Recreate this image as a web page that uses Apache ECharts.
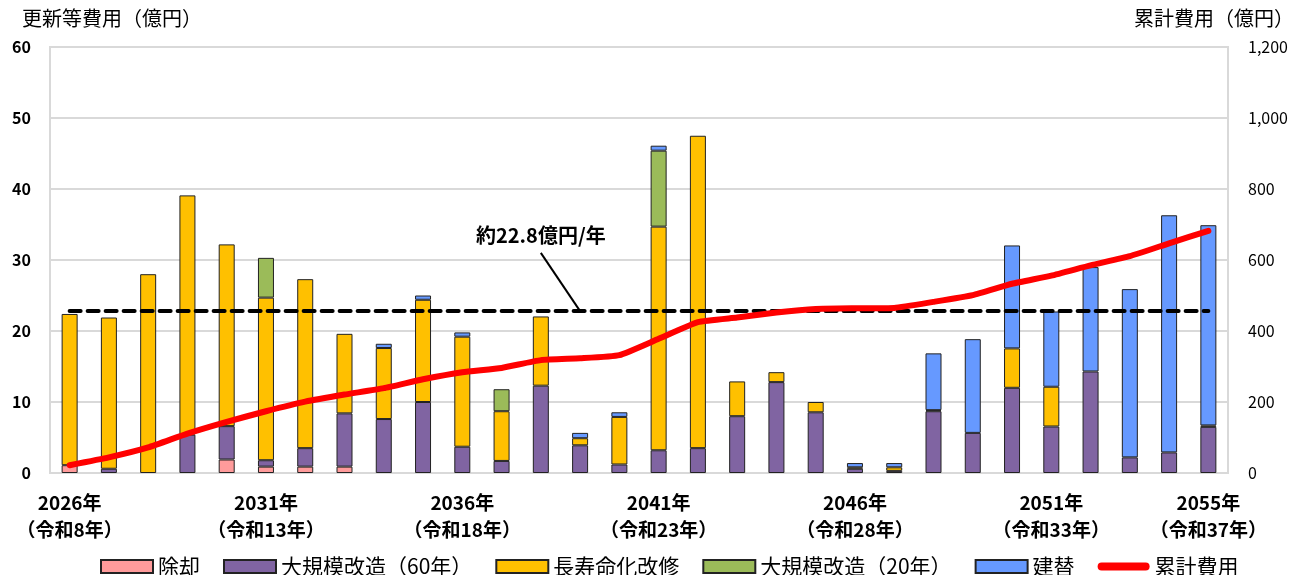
<!DOCTYPE html>
<html>
<head>
<meta charset="utf-8">
<script src="https://cdn.jsdelivr.net/npm/echarts@6/dist/echarts.min.js"></script>
<style>
html,body{margin:0;padding:0;background:#fff;}
#chart{width:1299px;height:575px;}
</style>
</head>
<body>
<div id="chart"></div>
<script>
const years = ['2026','2027','2028','2029','2030','2031','2032','2033','2034','2035','2036','2037','2038','2039','2040','2041','2042','2043','2044','2045','2046','2047','2048','2049','2050','2051','2052','2053','2054','2055'];
const tickLabels = {'2026':'令和8年','2031':'令和13年','2036':'令和18年','2041':'令和23年','2046':'令和28年','2051':'令和33年','2055':'令和37年'};

const demolition   = [1.1,0,0,0,1.9,0.9,0.9,0.9,0,0,0,0,0,0,0,0,0,0,0,0,0,0,0,0,0,0,0,0,0,0];
const majorRenov60 = [0,0.6,0,5.4,4.7,0.9,2.6,7.5,7.6,10.0,3.7,1.7,12.3,3.9,1.2,3.2,3.5,8.0,12.8,8.55,0.6,0.3,8.7,5.65,12.0,6.55,14.3,2.2,2.9,6.5];
const lifeExtension= [21.3,21.3,28.0,33.7,25.6,22.9,23.8,11.2,10.0,14.4,15.5,7.0,9.75,1.0,6.7,31.5,44.0,4.9,1.4,1.45,0.2,0.5,0.15,0,5.55,5.6,0,0,0,0.2];
const majorRenov20 = [0,0,0,0,0,5.6,0,0,0,0,0,3.1,0,0,0,10.7,0,0,0,0,0,0,0,0,0,0,0,0,0,0];
const rebuild      = [0,0,0,0,0,0,0,0,0.6,0.6,0.6,0,0,0.75,0.65,0.7,0,0,0,0,0.6,0.6,8.0,13.2,14.5,10.6,14.7,23.7,33.4,28.2];
const cumulative   = [22,44,72,111,144,174,201,221,239,264,284,296,318,323,332,378,425,438,452,462,464,465,482,501,533,556,585,611,647,682];
const averagePerYear = 22.8;
const annotationText = '約22.8億円/年';

const FONT = "'Noto Sans CJK JP', 'Noto Sans', sans-serif";
const chart = echarts.init(document.getElementById('chart'));
const nz = arr => arr.map(v => (v === 0 ? null : v));

const barCommon = (name, data, color) => ({
  name, type: 'bar', stack: 'cost', data: nz(data), barWidth: 16,
  itemStyle: { color, borderColor: '#222', borderWidth: 1 }
});

const lineIcon = 'path://M4,0 L48,0 A4,4 0 0 1 48,8 L4,8 A4,4 0 0 1 4,0 Z';

const option = {
  animation: false,
  textStyle: { fontFamily: FONT },
  title: [
    { text: '更新等費用（億円）', left: 17, top: 3, textStyle: { fontFamily: FONT, fontSize: 20, fontWeight: 'normal', color: '#000' } },
    { text: '累計費用（億円）', right: 0, top: 3, textStyle: { fontFamily: FONT, fontSize: 20, fontWeight: 'normal', color: '#000' } }
  ],
  grid: { left: 50, right: 71, top: 47, bottom: 102, show: true, borderColor: '#D9D9D9', borderWidth: 2, backgroundColor: 'transparent' },
  legend: {
    left: 95, top: 551, itemWidth: 52, itemHeight: 13, itemGap: 23,
    textStyle: { fontFamily: FONT, fontSize: 21, color: '#000' },
    data: [
      { name: '除却', icon: 'rect' },
      { name: '大規模改造（60年）', icon: 'rect' },
      { name: '長寿命化改修', icon: 'rect' },
      { name: '大規模改造（20年）', icon: 'rect' },
      { name: '建替', icon: 'rect' },
      { name: '累計費用', icon: lineIcon, itemStyle: { color: '#FF0000', borderWidth: 0 } }
    ]
  },
  xAxis: {
    type: 'category', data: years,
    axisLine: { lineStyle: { color: '#D9D9D9', width: 2 } },
    axisTick: { show: false },
    axisLabel: {
      interval: 0, margin: 16, color: '#000', fontFamily: FONT, fontSize: 19, fontWeight: 'bold', lineHeight: 27,
      formatter: v => tickLabels[v] ? v + '年\n（' + tickLabels[v] + '）' : ''
    }
  },
  yAxis: [
    {
      type: 'value', min: 0, max: 60, interval: 10,
      axisLine: { show: false }, axisTick: { show: false },
      axisLabel: { margin: 19, color: '#000', fontFamily: FONT, fontSize: 16, fontWeight: 'bold' },
      splitLine: { lineStyle: { color: '#D9D9D9', width: 2 } }
    },
    {
      type: 'value', min: 0, max: 1200, interval: 200,
      axisLine: { show: false }, axisTick: { show: false },
      axisLabel: { margin: 20, color: '#000', fontFamily: FONT, fontSize: 16,
        formatter: v => v.toLocaleString('en-US') },
      splitLine: { show: false }
    }
  ],
  series: [
    barCommon('除却', demolition, '#FF9B9B'),
    barCommon('大規模改造（60年）', majorRenov60, '#8064A2'),
    barCommon('長寿命化改修', lifeExtension, '#FFC000'),
    barCommon('大規模改造（20年）', majorRenov20, '#9BBB59'),
    Object.assign(barCommon('建替', rebuild, '#6699FF'), {
      markLine: {
        silent: true, symbol: 'none', z: 5,
        lineStyle: { color: '#000', type: [11, 7], width: 4, cap: 'round' },
        label: { show: false },
        data: [[{ coord: [0, averagePerYear] }, { coord: [years.length - 1, averagePerYear] }]]
      }
    }),
    {
      name: '累計費用', type: 'line', yAxisIndex: 1, data: cumulative, symbol: 'none', smooth: 0.15, z: 6,
      lineStyle: { color: '#FF0000', width: 6, cap: 'round', join: 'round' },
      itemStyle: { color: '#FF0000' }
    }
  ]
};
chart.setOption(option);

// annotation placed in data coordinates
const p = (i, v) => chart.convertToPixel({ gridIndex: 0 }, [i, v]);
const ptText = p(11.55, 33.5);
const ptA = p(11.85, 31.0);
const ptB = p(13.05, 22.8);
chart.setOption({
  graphic: [
    { type: 'text', x: ptText[0], y: ptText[1], style: { text: annotationText, fontFamily: FONT, fontSize: 20, fontWeight: 'bold', fill: '#000', align: 'center', verticalAlign: 'middle' }, z: 10 },
    { type: 'line', shape: { x1: ptA[0], y1: ptA[1], x2: ptB[0], y2: ptB[1] }, style: { stroke: '#000', lineWidth: 2 }, z: 10 }
  ]
});
</script>
</body>
</html>
